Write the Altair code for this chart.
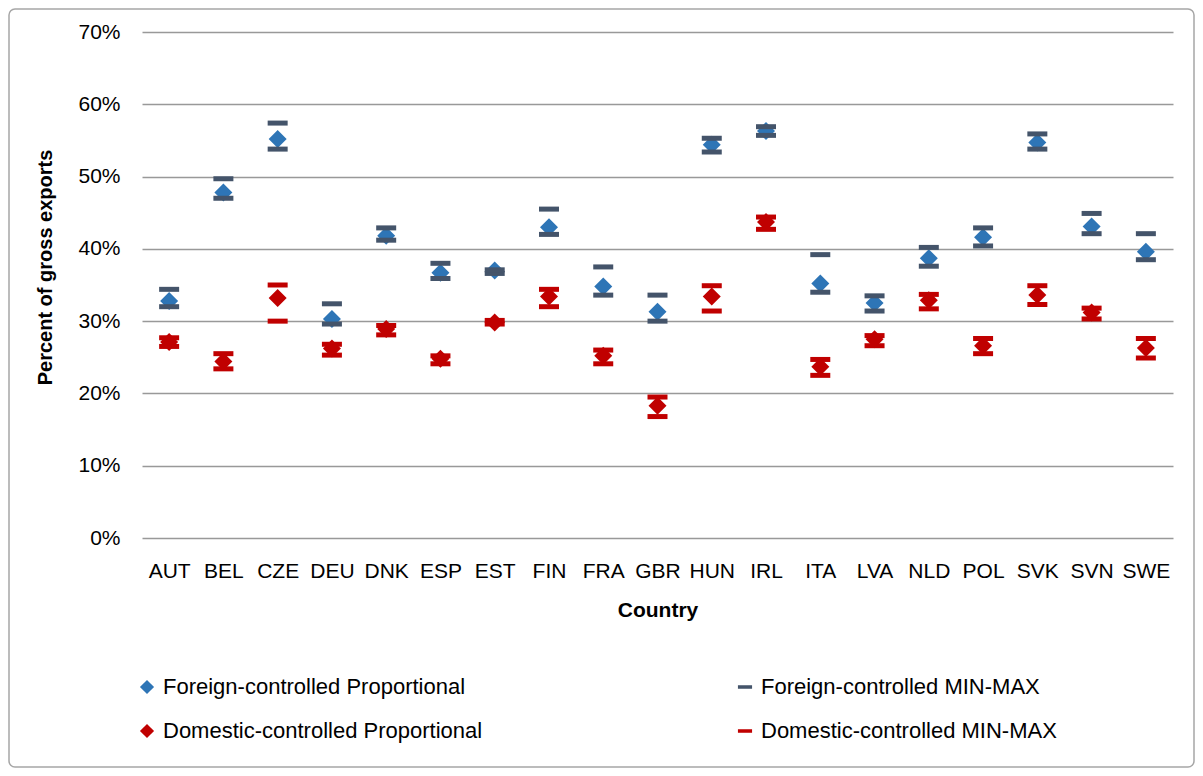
import altair as alt
import pandas as pd

countries = ["AUT", "BEL", "CZE", "DEU", "DNK", "ESP", "EST", "FIN", "FRA", "GBR",
             "HUN", "IRL", "ITA", "LVA", "NLD", "POL", "SVK", "SVN", "SWE"]

foreign_prop = [32.8, 47.8, 55.2, 30.3, 41.8, 36.7, 37.0, 43.0, 34.8, 31.3,
                54.4, 56.3, 35.2, 32.5, 38.7, 41.6, 54.7, 43.1, 39.6]
foreign_min = [32.0, 47.0, 53.8, 29.6, 41.2, 35.9, 36.6, 42.0, 33.6, 30.0,
               53.4, 55.7, 34.0, 31.4, 37.6, 40.4, 53.8, 42.1, 38.5]
foreign_max = [34.4, 49.7, 57.4, 32.4, 42.9, 38.0, 37.1, 45.5, 37.5, 33.6,
               55.3, 56.9, 39.2, 33.5, 40.2, 42.9, 55.9, 44.9, 42.1]
domestic_prop = [27.1, 24.4, 33.2, 26.2, 28.9, 24.8, 29.8, 33.4, 25.2, 18.3,
                 33.4, 43.7, 23.7, 27.5, 32.9, 26.6, 33.6, 31.2, 26.3]
domestic_min = [26.5, 23.4, 30.0, 25.3, 28.1, 24.1, 29.6, 32.0, 24.1, 16.8,
                31.4, 42.7, 22.5, 26.6, 31.7, 25.5, 32.3, 30.3, 24.9]
domestic_max = [27.7, 25.5, 35.0, 26.8, 29.4, 25.2, 30.1, 34.4, 26.0, 19.5,
                34.9, 44.4, 24.7, 28.0, 33.7, 27.6, 34.9, 31.8, 27.6]

# legend fills column by column: left column = proportional, right column = min-max
series_names = ["Foreign-controlled Proportional", "Domestic-controlled Proportional",
                "Foreign-controlled MIN-MAX", "Domestic-controlled MIN-MAX"]
series_colors = ["#2E75B6", "#C00000", "#44546A", "#C00000"]
dash = "M-1,-0.25H1V0.25H-1Z"
series_shapes = ["diamond", "diamond", dash, dash]
y_ticks = [0, 0.1, 0.2, 0.3, 0.4, 0.5, 0.6, 0.7]

rows = []
# proportional diamonds first, min-max bars drawn on top
for name, vals in [(series_names[0], foreign_prop), (series_names[1], domestic_prop)]:
    for c, v in zip(countries, vals):
        rows.append({"country": c, "series": name, "value": v / 100, "sz": 324})
for name, lo, hi in [(series_names[2], foreign_min, foreign_max),
                     (series_names[3], domestic_min, domestic_max)]:
    for c, a, b in zip(countries, lo, hi):
        rows.append({"country": c, "series": name, "value": a / 100, "sz": 400})
        rows.append({"country": c, "series": name, "value": b / 100, "sz": 400})
df = pd.DataFrame(rows)
df["order"] = range(len(df))

FONT = "Liberation Sans, Arial, sans-serif"

points = alt.Chart(df).mark_point(filled=True, opacity=1, strokeWidth=0).encode(
    x=alt.X("country:N", sort=countries,
            scale=alt.Scale(paddingInner=0, paddingOuter=0),
            axis=alt.Axis(title="Country", labelAngle=0, ticks=False, domain=False,
                          labelFontSize=21, labelPadding=22, titleFontSize=21,
                          titleFontWeight="bold", titlePadding=18, grid=False,
                          labelColor="#000000", titleColor="#000000")),
    y=alt.Y("value:Q",
            scale=alt.Scale(domain=[0, 0.7], nice=False, zero=True),
            axis=alt.Axis(title="Percent of gross exports", values=y_ticks, format=".0%",
                          ticks=False, domain=False, labelFontSize=21, labelPadding=22,
                          titleFontSize=20, titleFontWeight="bold", titlePadding=22,
                          titleY=235,
                          gridColor="#999999", gridWidth=1.5,
                          labelColor="#000000", titleColor="#000000")),
    color=alt.Color("series:N", sort=series_names,
                    scale=alt.Scale(domain=series_names, range=series_colors),
                    legend=alt.Legend(title=None, orient="none", legendX=-6, legendY=644,
                                      columns=2, columnPadding=251, rowPadding=22,
                                      labelFontSize=22, labelLimit=0, symbolSize=200,
                                      labelOffset=5, labelColor="#000000", padding=0)),
    shape=alt.Shape("series:N", sort=series_names,
                    scale=alt.Scale(domain=series_names, range=series_shapes),
                    legend=None),
    size=alt.Size("sz:Q", scale=None, legend=None),
    order=alt.Order("order:Q"),
)

frame = alt.Chart(pd.DataFrame({"k": [0]})).mark_rect(
    fill="transparent", stroke="#A6A6A6", strokeWidth=1.5, cornerRadius=6
).encode(
    x=alt.value(-133), x2=alt.value(1052), y=alt.value(-23), y2=alt.value(735)
)

chart = alt.layer(points, frame).properties(
    width=1031, height=506,
    autosize=alt.AutoSizeParams(type="none"),
    padding={"left": 134, "top": 24, "right": 22, "bottom": 230},
).configure(font=FONT).configure_view(strokeWidth=0)

chart.save("out.html", embed_options={"renderer": "svg", "actions": False})
